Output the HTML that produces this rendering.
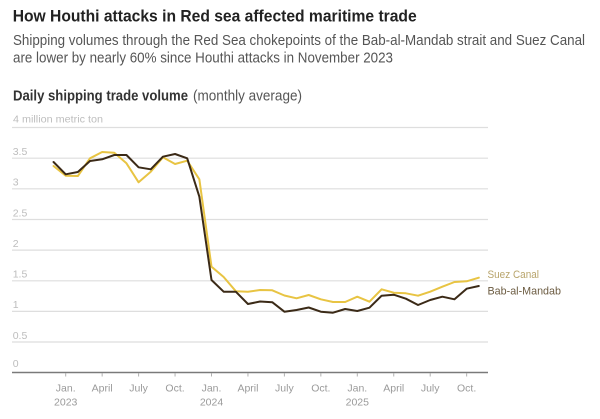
<!DOCTYPE html>
<html>
<head>
<meta charset="utf-8">
<style>
  html, body { margin: 0; padding: 0; background: #ffffff; }
  svg { display: block; }
  text { font-family: "Liberation Sans", sans-serif; }
</style>
</head>
<body>
<svg width="600" height="419" viewBox="0 0 600 419" xmlns="http://www.w3.org/2000/svg">
  <rect x="0" y="0" width="600" height="419" fill="#ffffff"/>

  <!-- Title block -->
  <text x="12.7" y="21.7" font-size="16.5" font-weight="bold" fill="#222" textLength="404" lengthAdjust="spacingAndGlyphs">How Houthi attacks in Red sea affected maritime trade</text>
  <text x="13" y="45" font-size="14.8" fill="#555" textLength="572" lengthAdjust="spacingAndGlyphs">Shipping volumes through the Red Sea chokepoints of the Bab-al-Mandab strait and Suez Canal</text>
  <text x="13" y="62.7" font-size="14.8" fill="#555" textLength="380" lengthAdjust="spacingAndGlyphs">are lower by nearly 60% since Houthi attacks in November 2023</text>

  <text x="13" y="100.7" font-size="15" font-weight="bold" fill="#333" textLength="175" lengthAdjust="spacingAndGlyphs">Daily shipping trade volume</text>
  <text x="193" y="100.7" font-size="15" fill="#555" textLength="109" lengthAdjust="spacingAndGlyphs">(monthly average)</text>

  <text x="13" y="122.7" font-size="10" fill="#bdbdbd" textLength="90" lengthAdjust="spacingAndGlyphs">4 million metric ton</text>

  <!-- Gridlines -->
  <g stroke="#dedede" stroke-width="1.2">
    <line x1="12" y1="127.5" x2="488" y2="127.5"/>
    <line x1="12" y1="158.2" x2="488" y2="158.2"/>
    <line x1="12" y1="188.8" x2="488" y2="188.8"/>
    <line x1="12" y1="219.5" x2="488" y2="219.5"/>
    <line x1="12" y1="250.1" x2="488" y2="250.1"/>
    <line x1="12" y1="280.8" x2="488" y2="280.8"/>
    <line x1="12" y1="311.4" x2="488" y2="311.4"/>
    <line x1="12" y1="342" x2="488" y2="342"/>
  </g>

  <!-- Y labels -->
  <g font-size="10.5" fill="#bdbdbd">
    <text x="12.7" y="155">3.5</text>
    <text x="12.7" y="185.6">3</text>
    <text x="12.7" y="216.3">2.5</text>
    <text x="12.7" y="246.9">2</text>
    <text x="12.7" y="277.6">1.5</text>
    <text x="12.7" y="308.2">1</text>
    <text x="12.7" y="338.8">0.5</text>
    <text x="12.7" y="367">0</text>
  </g>

  <!-- Axis -->
  <line x1="12" y1="372.5" x2="488" y2="372.5" stroke="#7a7a7a" stroke-width="1.6"/>
  <g stroke="#b0b0b0" stroke-width="1">
    <line x1="65.7" y1="373" x2="65.7" y2="376.5"/>
    <line x1="102.15" y1="373" x2="102.15" y2="376.5"/>
    <line x1="138.6" y1="373" x2="138.6" y2="376.5"/>
    <line x1="175.05" y1="373" x2="175.05" y2="376.5"/>
    <line x1="211.5" y1="373" x2="211.5" y2="376.5"/>
    <line x1="247.95" y1="373" x2="247.95" y2="376.5"/>
    <line x1="284.4" y1="373" x2="284.4" y2="376.5"/>
    <line x1="320.85" y1="373" x2="320.85" y2="376.5"/>
    <line x1="357.3" y1="373" x2="357.3" y2="376.5"/>
    <line x1="393.75" y1="373" x2="393.75" y2="376.5"/>
    <line x1="430.2" y1="373" x2="430.2" y2="376.5"/>
    <line x1="466.65" y1="373" x2="466.65" y2="376.5"/>
  </g>

  <!-- X labels -->
  <g font-size="10.5" fill="#9a9a9a" text-anchor="middle">
    <text x="65.7" y="391.7">Jan.</text>
    <text x="65.7" y="405.3">2023</text>
    <text x="102.15" y="391.7">April</text>
    <text x="138.6" y="391.7">July</text>
    <text x="175.05" y="391.7">Oct.</text>
    <text x="211.5" y="391.7">Jan.</text>
    <text x="211.5" y="405.3">2024</text>
    <text x="247.95" y="391.7">April</text>
    <text x="284.4" y="391.7">July</text>
    <text x="320.85" y="391.7">Oct.</text>
    <text x="357.3" y="391.7">Jan.</text>
    <text x="357.3" y="405.3">2025</text>
    <text x="393.75" y="391.7">April</text>
    <text x="430.2" y="391.7">July</text>
    <text x="466.65" y="391.7">Oct.</text>
  </g>

  <!-- Suez Canal (yellow) -->
  <polyline fill="none" stroke="#e8c443" stroke-width="2" stroke-linejoin="round" stroke-linecap="round"
    points="53.55,166 65.7,175.7 77.85,176 90,158.3 102.15,152 114.3,152.7 126.45,163.3 138.6,182.3 150.75,171.7 162.9,157.3 175.05,164 187.2,160.7 199.35,179.3 211.5,266.7 223.65,277 235.8,291.2 247.95,291.7 260.1,290 272.25,290.3 284.4,295.5 296.55,298.3 308.7,295 320.85,299.3 333,302 345.15,302 357.3,296.7 369.45,301.7 381.6,289.3 393.75,292.7 405.9,293.3 418.05,295.7 430.2,291.7 442.35,286.7 454.5,282 466.65,281.3 478.8,277.7"/>

  <!-- Bab-al-Mandab (dark brown) -->
  <polyline fill="none" stroke="#3b2a17" stroke-width="2" stroke-linejoin="round" stroke-linecap="round"
    points="53.55,162 65.7,174.3 77.85,172 90,161 102.15,159.3 114.3,155 126.45,155 138.6,167.3 150.75,169.3 162.9,156.7 175.05,154 187.2,158.3 199.35,196.7 211.5,280 223.65,291.7 235.8,291.7 247.95,304 260.1,301.5 272.25,302.2 284.4,311.7 296.55,310 308.7,307.5 320.85,311.7 333,312.7 345.15,309 357.3,311 369.45,307.7 381.6,295.7 393.75,294.7 405.9,298.7 418.05,305 430.2,300 442.35,296.7 454.5,299.3 466.65,288.7 478.8,286"/>

  <!-- Legend labels -->
  <text x="487.5" y="278" font-size="11" fill="#b8a46b" textLength="51.5" lengthAdjust="spacingAndGlyphs">Suez Canal</text>
  <text x="487.5" y="294.5" font-size="11" fill="#6b5b41" textLength="73.5" lengthAdjust="spacingAndGlyphs">Bab-al-Mandab</text>
</svg>
</body>
</html>
